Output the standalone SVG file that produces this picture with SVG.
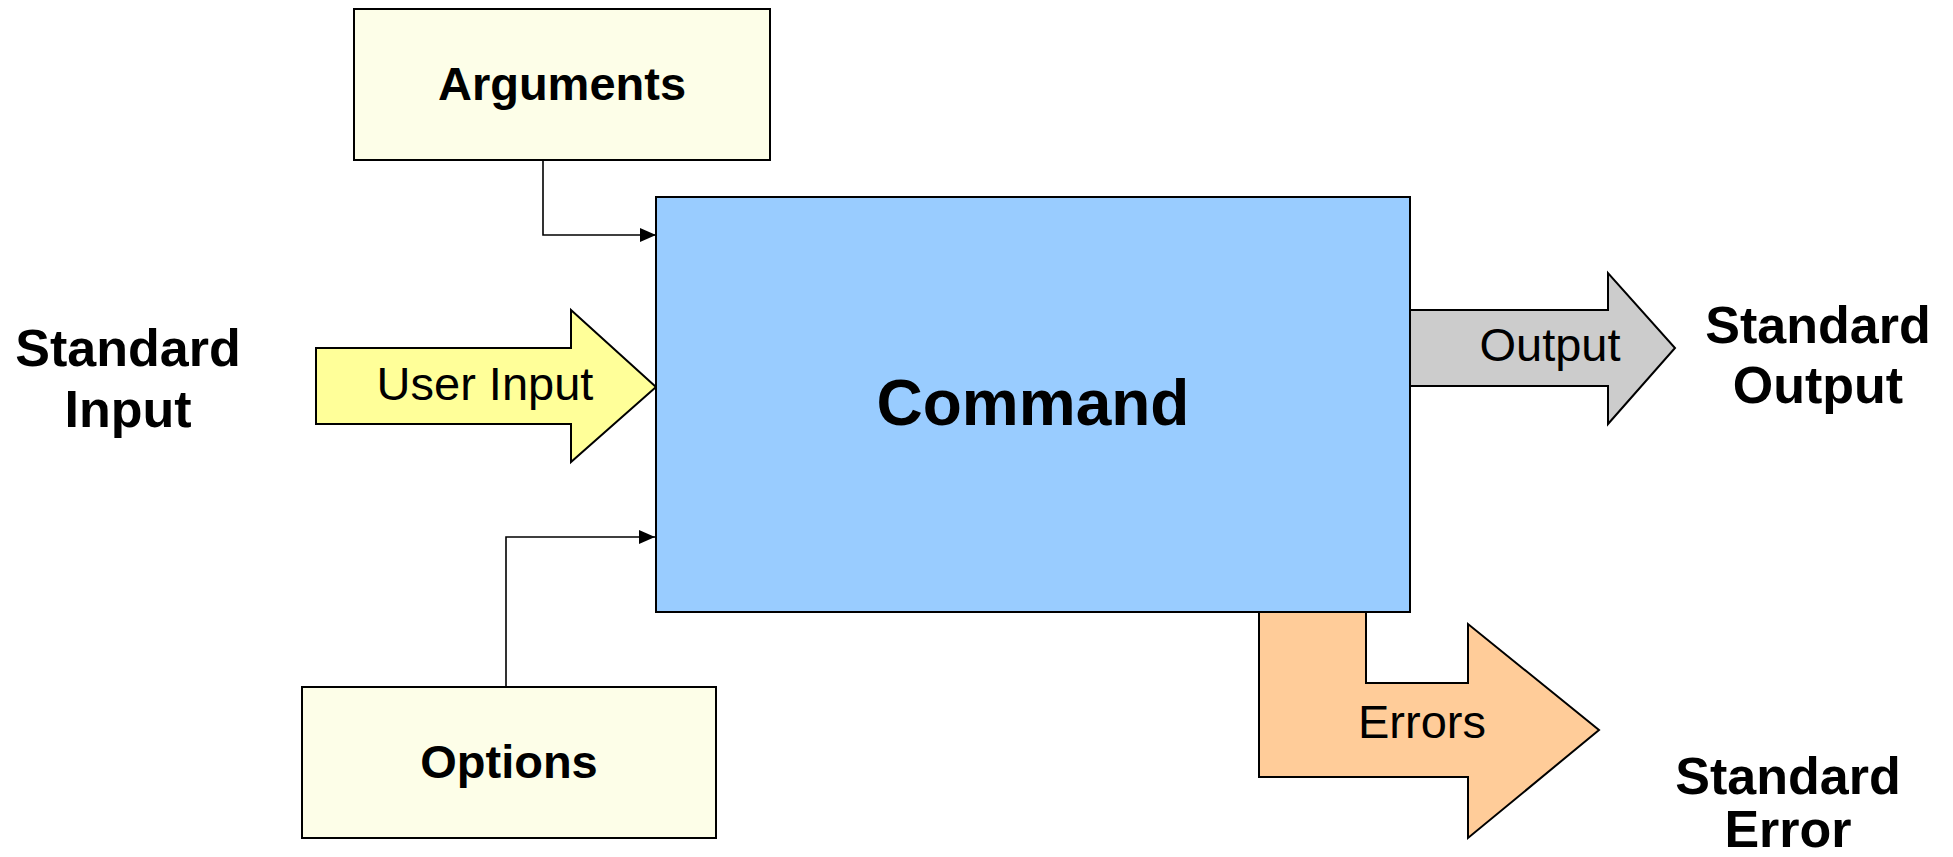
<svg xmlns="http://www.w3.org/2000/svg" width="1953" height="857" viewBox="0 0 1953 857">
  <defs>
    <marker id="arrowhead" viewBox="0 0 16 14" refX="16" refY="7" markerWidth="16" markerHeight="14" markerUnits="userSpaceOnUse" orient="auto">
      <path d="M0,0 L16,7 L0,14 Z" fill="#000"/>
    </marker>
    <style>
      text { font-family: "Liberation Sans", Arial, sans-serif; fill: #000; }
      .box { stroke: #000; stroke-width: 2; }
      .param { fill: #FDFEE8; }
      .cmd { fill: #99CCFF; }
      .label-bold { font-weight: bold; font-size: 47px; text-anchor: middle; }
      .stream { font-weight: bold; font-size: 52px; text-anchor: middle; }
      .flow { font-size: 47px; text-anchor: middle; }
      .link { fill: none; stroke: #000; stroke-width: 1.6; }
    </style>
  </defs>
  <rect width="1953" height="857" fill="#fff"/>

  <!-- stream captions -->
  <g id="standard-input">
    <text class="stream" x="128" y="366">Standard</text>
    <text class="stream" x="128" y="427">Input</text>
  </g>
  <g id="standard-output">
    <text class="stream" x="1818" y="343">Standard</text>
    <text class="stream" x="1818" y="403">Output</text>
  </g>
  <g id="standard-error">
    <text class="stream" x="1788" y="794">Standard</text>
    <text class="stream" x="1788" y="847">Error</text>
  </g>

  <!-- flow arrows -->
  <g id="user-input">
    <path class="box" d="M316,348 H571 V310 L656,387 L571,462 V424 H316 Z" fill="#FFFF99" stroke-width="1.6"/>
    <text class="flow" x="485" y="400">User Input</text>
  </g>
  <g id="output">
    <path class="box" d="M1410,310 H1608 V273 L1675,348 L1608,424 V386 H1410 Z" fill="#CCCCCC" stroke-width="1.6"/>
    <text class="flow" x="1550" y="361">Output</text>
  </g>
  <g id="errors">
    <path class="box" d="M1259,612 H1366 V683 H1468 V624 L1599,730 L1468,838 V777 H1259 Z" fill="#FFCC99" stroke-width="1.6"/>
    <text class="flow" x="1422" y="738">Errors</text>
  </g>

  <!-- central command -->
  <g id="command">
    <rect class="box cmd" x="656" y="197" width="754" height="415"/>
    <text x="1033" y="425" font-size="64" font-weight="bold" text-anchor="middle">Command</text>
  </g>

  <!-- parameter boxes -->
  <g id="arguments">
    <rect class="box param" x="354" y="9" width="416" height="151"/>
    <text class="label-bold" x="562" y="100">Arguments</text>
  </g>
  <g id="options">
    <rect class="box param" x="302" y="687" width="414" height="151"/>
    <text class="label-bold" x="509" y="778">Options</text>
  </g>

  <!-- connectors -->
  <g id="connectors">
    <path class="link" d="M543,160 V235 H656" marker-end="url(#arrowhead)"/>
    <path class="link" d="M506,687 V537 H655" marker-end="url(#arrowhead)"/>
  </g>
</svg>
